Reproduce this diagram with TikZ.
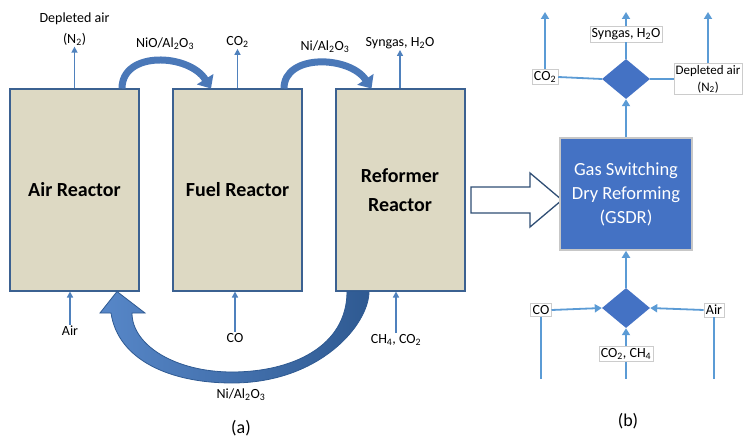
\documentclass[tikz,border=0pt]{standalone}
\usepackage{fontspec}
\setmainfont{Carlito}
\usetikzlibrary{arrows.meta,shapes.geometric,calc}
\definecolor{sand}{HTML}{DDD9C3}
\definecolor{rim}{HTML}{3B6191}
\definecolor{feedblue}{HTML}{4F81BD}
\definecolor{arcblue}{HTML}{4A78B8}
\definecolor{arclite}{HTML}{5787C8}
\definecolor{arcdim}{HTML}{2F5A92}
\definecolor{gsdrblue}{HTML}{4472C4}
\definecolor{pipeblue}{HTML}{5B9BD5}
\tikzset{
  reactor/.style={draw=rim,line width=2pt,fill=sand,minimum width=129pt,
    minimum height=201pt,align=center,font=\fontsize{20}{29}\selectfont\bfseries},
  feed/.style={-{Triangle[width=6pt,length=6pt]},line width=1.4pt,feedblue},
  lbl/.style={font=\fontsize{14}{21}\selectfont,align=center,inner sep=1pt},
  carry/.style={-{Triangle[width=19pt,length=11pt]},line width=7pt,arcblue},
  hollow/.style={draw=rim!80!black,line width=1.3pt,fill=white,line join=miter},
  gsdrbox/.style={draw=black!22,line width=1.5pt,fill=gsdrblue,text=white,
    minimum width=132pt,minimum height=112pt,align=center,
    font=\fontsize{18.5}{24}\selectfont},
  valve/.style={diamond,aspect=1.2,fill=gsdrblue,minimum width=48pt,
    minimum height=40pt,inner sep=0pt},
  pipe/.style={line width=1.8pt,pipeblue},
  flowin/.style={pipe,-{Triangle[width=8pt,length=7pt]}},
  tag/.style={draw=black!20,fill=white,inner sep=2pt,
    font=\fontsize{14}{18}\selectfont,align=center}
}

\begin{document}
\begin{tikzpicture}[x=1pt,y=-1pt]
\useasboundingbox (0,0) rectangle (745,444);
% (a) three reactors
\foreach \nm/\x/\txt in {air/74.5/Air Reactor,fuel/237.5/Fuel Reactor,ref/400/Reformer\\Reactor}
  \node[reactor] (\nm) at (\x,190) {\txt};

\node[lbl] (depl) at (74.5,29) {Depleted air\\(N\textsubscript{2})};
\node[lbl] (co2a) at (237.5,42) {CO\textsubscript{2}};
\node[lbl] (syna) at (400,43) {Syngas, H\textsubscript{2}O};
\foreach \nm/\lb in {air/depl,fuel/co2a,ref/syna}
  \draw[feed] (\nm.north) -- (\lb.south);

\node[lbl] (aira) at (70,331) {Air};
\node[lbl] (coa) at (235,338) {CO};
\node[lbl] (feeda) at (396,340) {CH\textsubscript{4}, CO\textsubscript{2}};
\foreach \nm/\lb in {air/aira,fuel/coa,ref/feeda}
  \draw[feed] (\lb.north) -- (\lb.north |- \nm.south);

% solids loop
\node[lbl] (nio) at (165,44) {NiO/Al\textsubscript{2}O\textsubscript{3}};
\node[lbl] (nia) at (325,47) {Ni/Al\textsubscript{2}O\textsubscript{3}};
\node[lbl] (nib) at (241,395) {Ni/Al\textsubscript{2}O\textsubscript{3}};
\draw[carry] ([xshift=-18pt]air.north east) .. controls +(0,-38) and +(-22,-35) .. ([xshift=39pt]fuel.north west);
\draw[carry] ([xshift=-19pt]fuel.north east) .. controls +(0,-35) and +(-22,-33) .. ([xshift=37pt]ref.north west);
\shadedraw[left color=arclite,right color=arcdim,draw=arcdim,line width=0.8pt]
  ([xshift=12.5pt]ref.south west) .. controls +(0,55) and +(60,0) .. (232,372)
  .. controls +(-57,0) and +(0,32) .. (132,313) -- (145,313)
  -- ([xshift=108pt]air.south west) -- (100,313) -- (111,313)
  .. controls +(7,47) and +(-62,0) .. (232,383)
  .. controls +(88,0) and +(0,33) .. ([xshift=34.5pt]ref.south west) -- cycle;

\node[font=\fontsize{18}{22}\selectfont] (capa) at (241,428) {(a)};

% hand-over to (b)
\draw[hollow] (471,187) -- (530,187) -- (530,173) -- (562,200) -- (530,227)
  -- (530,213) -- (471,213) -- cycle;

% (b) GSDR
\node[gsdrbox] (gsdr) at (626,194) {Gas Switching\\Dry Reforming\\(GSDR)};
\node[valve] (mixout) at (626,79) {};
\node[valve] (mixin) at (626,308) {};
\coordinate (top) at (0,12);
\coordinate (bot) at (0,379);

\node[tag] (co2b) at (545,77) {CO\textsubscript{2}};
\node[tag] (synb) at (626,34) {Syngas, H\textsubscript{2}O};
\node[tag,font=\fontsize{13}{17}\selectfont,inner sep=1.5pt] (deplb) at (708,79) {Depleted air\\(N\textsubscript{2})};
\draw[pipe] (mixout.west) -- (co2b.east);
\draw[pipe] (mixout.east) -- (deplb.west);
\draw[pipe] (mixout.north) -- (synb.south);
\foreach \lb in {co2b,synb,deplb}
  \draw[flowin] (\lb.north) -- (\lb.north |- top);
\draw[flowin] (gsdr.north) -- (mixout.south);

\node[tag] (cob) at (541,310) {CO};
\node[tag] (airb) at (714,310) {Air};
\node[tag] (feedb) at (626,354) {CO\textsubscript{2}, CH\textsubscript{4}};
\draw[flowin] (cob.east) -- (mixin.west);
\draw[flowin] (airb.west) -- (mixin.east);
\draw[flowin] (feedb.north) -- (mixin.south);
\foreach \lb in {cob,airb,feedb}
  \draw[pipe] (\lb.south) -- (\lb.south |- bot);
\draw[flowin] (mixin.north) -- (gsdr.south);

\node[font=\fontsize{18}{22}\selectfont] (capb) at (628,421) {(b)};
\end{tikzpicture}
\end{document}
